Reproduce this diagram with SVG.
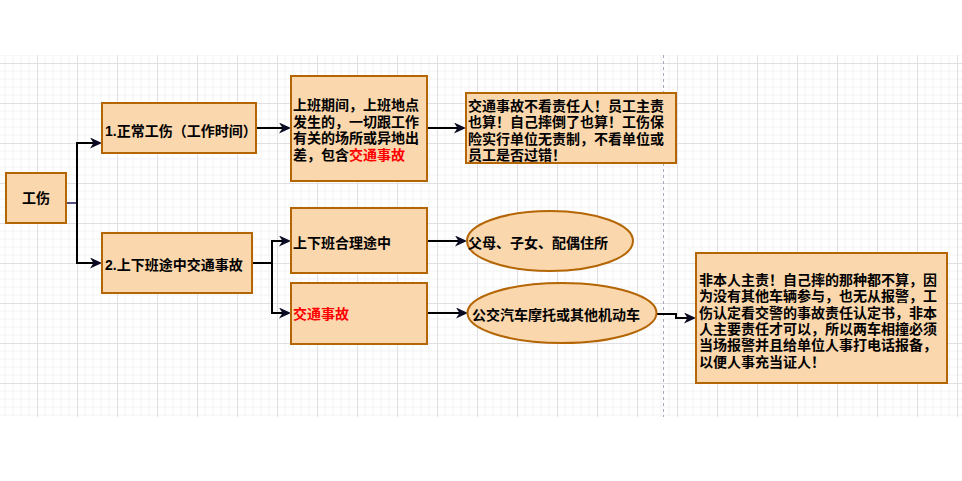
<svg xmlns="http://www.w3.org/2000/svg" width="962" height="481" viewBox="0 0 962 481">
<style>
.box{fill:#fad7ac;stroke:#b46504;stroke-width:2}
.t{font-family:"Liberation Sans","Noto Sans CJK SC",sans-serif;font-size:14px;font-weight:700;fill:#000}
.red{fill:#ff0000}
.ln{fill:none;stroke:#000;stroke-width:2}
</style>
<defs>
<pattern id="grid" patternUnits="userSpaceOnUse" x="37" y="63" width="40" height="40">
<path d="M8,0V40M16,0V40M24,0V40M32,0V40M0,8H40M0,16H40M0,24H40M0,32H40" stroke="#f2f2f4" stroke-width="1" fill="none"/>
<path d="M0.5,0V40M0,0.5H40" stroke="#e0e0e4" stroke-width="1" fill="none"/>
</pattern>
<marker id="arr" markerUnits="userSpaceOnUse" markerWidth="12" markerHeight="11" refX="9" refY="5.5" orient="auto">
<path d="M0,0 L12,5.5 L0,11 L3.5,5.5 z" fill="#0a0a22"/>
</marker>
</defs>
<rect width="962" height="481" fill="#fff"/>
<rect x="0" y="55" width="962" height="362" fill="url(#grid)"/>
<line x1="663.5" y1="55" x2="663.5" y2="417" stroke="#a8a8bc" stroke-width="1" stroke-dasharray="3 3"/>

<g id="connectors">
<path d="M66,203 H77" fill="none" stroke="#1a1a5a" stroke-width="1.5"/>
<path class="ln" d="M77,203 V143 H99" marker-end="url(#arr)"/>
<path class="ln" d="M77,203 V263 H99" marker-end="url(#arr)"/>
<path class="ln" d="M256,128 H288" marker-end="url(#arr)"/>
<path class="ln" d="M427,128 H463" marker-end="url(#arr)"/>
<path class="ln" d="M252,263 H272"/>
<path class="ln" d="M272,263 V241 H288" marker-end="url(#arr)"/>
<path class="ln" d="M272,263 V313 H288" marker-end="url(#arr)"/>
<path class="ln" d="M427,241 H464" marker-end="url(#arr)"/>
<path class="ln" d="M427,313 H465" marker-end="url(#arr)"/>
<path class="ln" d="M657,314 H676 V318 H693" marker-end="url(#arr)"/>
</g>

<g id="node-gongshang">
<rect class="box" x="6" y="173" width="60" height="50"/>
<text class="t" x="36" y="203" text-anchor="middle">工伤</text>
</g>

<g id="node-normal">
<rect class="box" x="102" y="103" width="154" height="50"/>
<text class="t" x="105" y="136">1.正常工伤（工作时间）</text>
</g>

<g id="node-commute">
<rect class="box" x="102" y="233" width="150" height="60"/>
<text class="t" x="105" y="270">2.上下班途中交通事故</text>
</g>

<g id="node-worktime">
<rect class="box" x="291" y="76" width="136" height="105"/>
<text class="t" x="293" y="110"><tspan x="293">上班期间，上班地点</tspan><tspan x="293" dy="16.7">发生的，一切跟工作</tspan><tspan x="293" dy="16.7">有关的场所或异地出</tspan><tspan x="293" dy="16.6">差，包含</tspan><tspan class="red">交通事故</tspan></text>
</g>

<g id="node-noresp">
<rect class="box" x="466" y="93" width="210" height="70"/>
<text class="t" x="468" y="110.5"><tspan x="468">交通事故不看责任人！员工主责</tspan><tspan x="468" dy="16.5">也算！自己摔倒了也算！工伤保</tspan><tspan x="468" dy="16.5">险实行单位无责制，不看单位或</tspan><tspan x="468" dy="16.5">员工是否过错！</tspan></text>
</g>

<g id="node-route">
<rect class="box" x="291" y="208" width="136" height="65"/>
<text class="t" x="293" y="247.5">上下班合理途中</text>
</g>

<g id="node-accident">
<rect class="box" x="291" y="283" width="136" height="61"/>
<text class="t red" x="293" y="319">交通事故</text>
</g>

<g id="node-home">
<ellipse class="box" cx="550" cy="241" rx="83" ry="30"/>
<text class="t" x="468" y="248">父母、子女、配偶住所</text>
</g>

<g id="node-vehicle">
<ellipse class="box" cx="562" cy="313" rx="94.5" ry="30"/>
<text class="t" x="472" y="320">公交汽车摩托或其他机动车</text>
</g>

<g id="node-note">
<rect class="box" x="696" y="253" width="251" height="130"/>
<text class="t" x="699" y="285"><tspan x="699">非本人主责！自己摔的那种都不算，因</tspan><tspan x="699" dy="16.3">为没有其他车辆参与，也无从报警，工</tspan><tspan x="699" dy="16.3">伤认定看交警的事故责任认定书，非本</tspan><tspan x="699" dy="16.3">人主要责任才可以，所以两车相撞必须</tspan><tspan x="699" dy="16.3">当场报警并且给单位人事打电话报备，</tspan><tspan x="699" dy="16.3">以便人事充当证人！</tspan></text>
</g>
</svg>
